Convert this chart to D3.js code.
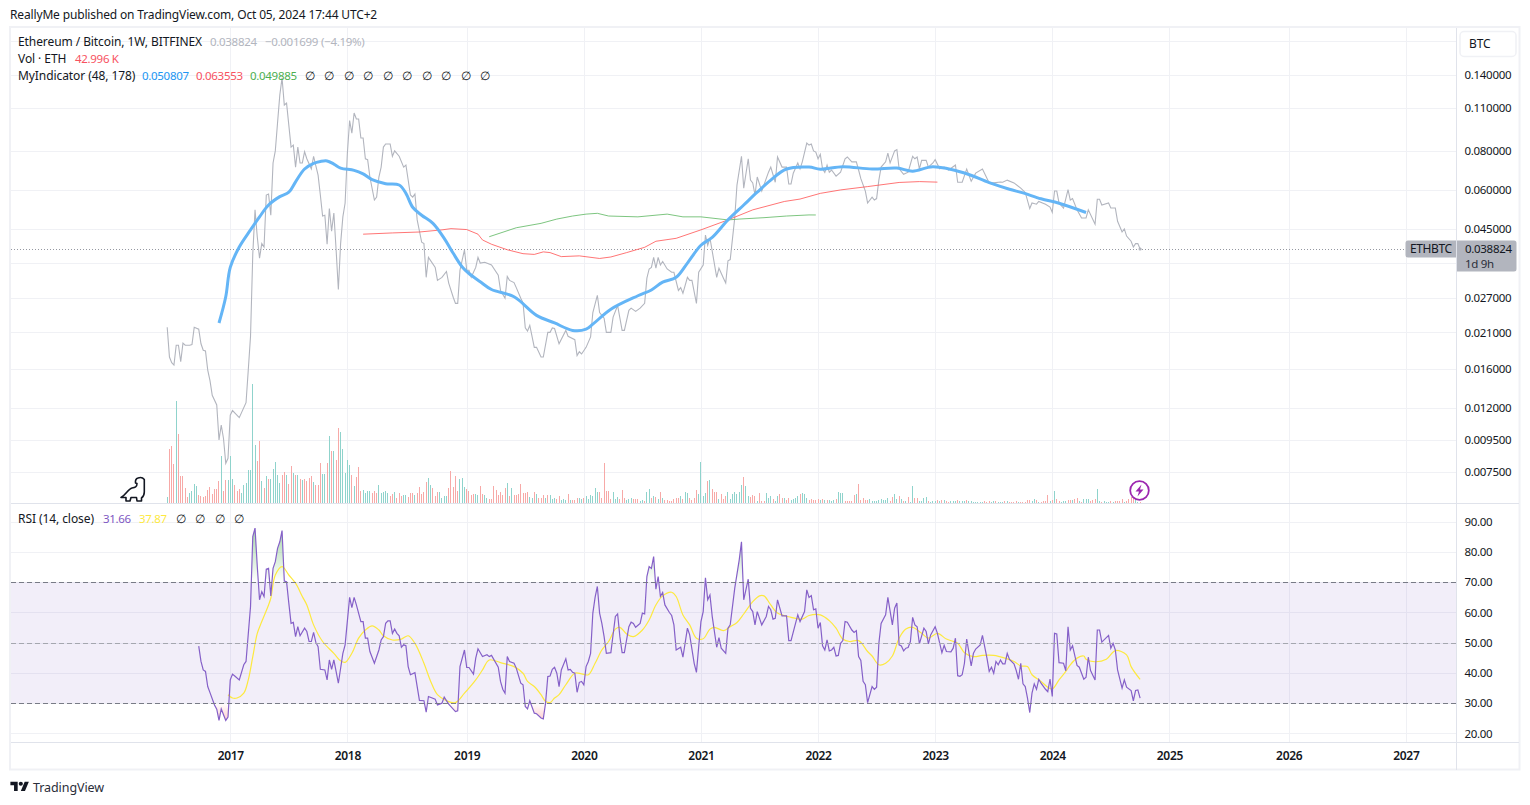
<!DOCTYPE html>
<html><head><meta charset="utf-8"><title>ETHBTC</title>
<script src="https://cdn.jsdelivr.net/npm/d3@7"></script>
<style>html,body{margin:0;padding:0;background:#fff}svg{display:block}text{font-family:"Noto Sans",sans-serif;font-size:12px;letter-spacing:-.08px}</style>
</head><body><svg id="c" width="1530" height="805"></svg>
<script>
// ---------- data: [week index since first bar, value] ----------
const yearLabels = ["2017","2018","2019","2020","2021","2022","2023","2024","2025","2026","2027"];
const yearTickWeeks = [28,80,133,185,237,289,341,393,445,498,550];
const priceAxisLabels = [0.14,0.11,0.08,0.06,0.045,0.027,0.021,0.016,0.012,0.0095,0.0075];
const priceGridLevels = [0.18,0.14,0.11,0.08,0.06,0.045,0.035,0.027,0.021,0.016,0.012,0.0095,0.0075];
const rsiAxisLabels = [20,30,40,50,60,70,80,90];

const priceCloses = [[0,.0218],[1,.0175],[2,.0168],[3,.0165],[4,.0191],[5,.0191],[6,.0169],[7,.0194],[8,.0191],[10,.0191],[11,.0192],[12,.0218],[14,.0215],[15,.0193],[16,.0184],[17,.0183],[18,.0159],[19,.0147],[20,.0132],[22,.0123],[23,.0095],[24,.0106],[25,.0096],[26,.0080],[27,.0083],[28,.0114],[29,.0118],[32,.0112],[35,.0125],[36,.0159],[37,.0204],[38,.0374],[39,.0518],[40,.0424],[41,.0363],[42,.0404],[43,.0394],[44,.0578],[45,.0582],[46,.0498],[47,.0732],[48,.0800],[49,.0985],[50,.1208],[51,.1370],[52,.1122],[53,.1138],[55,.0823],[56,.0835],[57,.0710],[58,.0823],[59,.0732],[60,.0732],[61,.0795],[62,.0755],[64,.0701],[65,.0769],[67,.0669],[68,.0578],[69,.0495],[70,.0498],[71,.0402],[72,.0523],[73,.0443],[74,.0506],[75,.0386],[76,.0288],[77,.0404],[78,.0492],[79,.0545],[80,.0787],[81,.1000],[82,.0912],[83,.1058],[84,.1012],[85,.1012],[86,.0880],[87,.0880],[88,.0755],[89,.0750],[90,.0660],[92,.0557],[93,.0569],[94,.0660],[95,.0710],[96,.0823],[97,.0842],[99,.0842],[100,.0769],[101,.0800],[103,.0769],[105,.0710],[106,.0721],[108,.0578],[109,.0569],[110,.0582],[111,.0481],[113,.0408],[114,.0404],[115,.0315],[116,.0365],[119,.0339],[120,.0308],[122,.0315],[124,.0329],[125,.0302],[127,.0272],[128,.0260],[129,.0260],[130,.0332],[132,.0386],[133,.0332],[134,.0332],[135,.0315],[137,.0339],[138,.0365],[139,.0350],[141,.0352],[144,.0345],[147,.0320],[148,.0286],[150,.0270],[151,.0317],[152,.0308],[154,.0303],[155,.0292],[157,.0270],[158,.0261],[159,.0217],[160,.0212],[161,.0221],[163,.0188],[164,.0188],[166,.0175],[167,.0175],[169,.0210],[170,.0210],[171,.0217],[172,.0216],[174,.0193],[177,.0213],[178,.0204],[181,.0199],[182,.0177],[183,.0182],[184,.0179],[186,.0188],[188,.0203],[189,.0243],[191,.0276],[192,.0243],[194,.0233],[195,.0210],[197,.0210],[198,.0235],[200,.0256],[202,.0213],[203,.0213],[205,.0247],[206,.0251],[208,.0245],[210,.0251],[212,.0260],[213,.0313],[214,.0335],[215,.0339],[216,.0365],[217,.0337],[218,.0365],[219,.0345],[220,.0354],[222,.0335],[224,.0327],[225,.0327],[227,.0286],[228,.0292],[229,.0280],[231,.0315],[232,.0308],[233,.0308],[235,.0260],[236,.0327],[238,.0345],[239,.0430],[240,.0399],[241,.0421],[244,.0315],[245,.0337],[247,.0313],[248,.0302],[249,.0356],[250,.0359],[252,.0488],[253,.0622],[255,.0769],[256,.0608],[258,.0755],[259,.0645],[260,.0632],[261,.0578],[262,.0660],[264,.0595],[267,.0684],[268,.0710],[270,.0635],[271,.0765],[273,.0710],[275,.0710],[276,.0627],[277,.0627],[278,.0679],[280,.0732],[281,.0701],[282,.0738],[284,.0848],[285,.0835],[286,.0842],[287,.0800],[288,.0793],[289,.0755],[290,.0780],[291,.0701],[292,.0683],[293,.0721],[294,.0684],[295,.0695],[297,.0664],[299,.0684],[301,.0755],[302,.0765],[304,.0738],[306,.0738],[307,.0695],[308,.0652],[310,.0595],[311,.0545],[313,.0569],[314,.0557],[315,.0563],[316,.0645],[317,.0710],[319,.0738],[320,.0787],[321,.0732],[323,.0800],[324,.0808],[325,.0701],[327,.0673],[329,.0684],[331,.0769],[332,.0755],[333,.0765],[334,.0701],[335,.0746],[337,.0746],[338,.0710],[340,.0732],[341,.0750],[343,.0701],[345,.0710],[347,.0695],[350,.0721],[351,.0635],[353,.0635],[355,.0700],[357,.0640],[359,.0679],[362,.0700],[365,.0632],[367,.0632],[370,.0636],[371,.0635],[373,.0645],[376,.0632],[379,.0608],[381,.0589],[383,.0523],[384,.0545],[386,.0540],[387,.0551],[390,.0540],[392,.0529],[393,.0509],[394,.0595],[395,.0595],[396,.0545],[398,.0525],[400,.0601],[401,.0557],[402,.0563],[404,.0518],[406,.0488],[408,.0488],[409,.0518],[412,.0466],[413,.0560],[414,.0560],[415,.0537],[418,.0545],[419,.0525],[421,.0525],[422,.0476],[424,.0440],[425,.0450],[426,.0427],[428,.0411],[429,.0394],[430,.0404],[431,.0404],[432,.038824]];

const maShort = [[23,.0225],[26,.0273],[28,.0339],[32,.0394],[37,.0447],[41,.0492],[45,.0537],[50,.0571],[54,.0590],[57,.0637],[61,.0700],[65,.0730],[68,.0740],[71,.0743],[74,.0726],[77,.0705],[83,.0693],[87,.0675],[91,.0647],[97,.0628],[103,.0622],[106,.0585],[109,.0528],[113,.0498],[118,.0469],[123,.0420],[127,.0376],[131,.0340],[134,.0324],[139,.0305],[144,.0288],[154,.0273],[164,.0238],[172,.0225],[180,.0213],[186,.0215],[189,.0223],[197,.0249],[209,.0275],[215,.0287],[220,.0304],[226,.0315],[231,.0350],[237,.0399],[242,.0423],[249,.0481],[256,.0537],[262,.0590],[268,.0645],[275,.0700],[285,.0710],[290,.0699],[300,.0712],[313,.0700],[324,.0705],[331,.0689],[340,.0712],[354,.0680],[365,.0633],[374,.0603],[380,.0587],[388,.0562],[396,.0544],[408,.050807]];

const maLong = [[87,.0433],[100,.0437],[112,.0440],[122,.0447],[126,.0451],[133,.0448],[138,.0433],[140,.0415],[144,.0402],[151,.0386],[158,.0375],[163,.0373],[167,.0380],[170,.0378],[175,.0367],[183,.0369],[192,.0362],[197,.0366],[204,.0378],[212,.0393],[217,.0411],[226,.0420],[237,.0447],[249,.0481],[260,.0518],[274,.0551],[281,.0561],[290,.0585],[299,.0600],[311,.0615],[325,.0634],[334,.0638],[342,.063553]];

const maThird = [[143,.0425],[155,.0454],[166,.0469],[173,.0484],[180,.0495],[186,.0502],[191,.0505],[196,.0495],[209,.0492],[222,.0502],[229,.0492],[237,.0492],[249,.0481],[254,.0484],[265,.0489],[275,.0495],[285,.0499],[288,.049885]];

// weekly volume in thousands of ETH; negative = down week
const weeklyVolumeK = [
180,-1620,-1710,-1170,3060,-2070,-810,-810,-450,-180,
300,360,570,510,-240,-210,-180,-210,-390,-480,
-270,-420,-420,-660,1410,-360,-690,690,1410,720,
-540,-360,-420,300,540,600,990,990,3570,1740,
-1260,-1860,660,-450,810,-720,720,1020,1230,840,
600,-840,-930,840,-570,-1110,900,-840,840,-720,
690,-720,-660,-750,-810,630,-540,-540,-1200,870,
870,-1200,2010,-1560,1560,-1290,-2250,2130,1620,900,
1290,1140,-840,510,-780,-1080,-360,390,300,360,
360,-300,-360,-300,540,300,330,360,300,-210,
-270,330,-150,-300,
-210,240,240,-180,-300,-300,240,-300,-480,-270,
-330,-630,750,540,-450,-210,-330,330,150,210,
210,-450,-960,-480,-810,-360,720,750,480,-420,
-360,-240,-270,270,240,-510,-270,240,150,-120,
-120,-510,-390,-240,-330,-240,-450,600,-210,450,
-240,-240,-270,-570,-300,-300,-330,180,150,-330,
270,-150,-150,-240,150,-240,240,120,150,-120,
-210,90,120,90,-270,90,-90,-90,-150,150,
120,-150,210,120,240,210,450,330,-330,-150,
-1200,-360,-360,-120,330,120,180,-120,-390,-150,
90,120,150,-120,-120,-120,60,90,-60,330,
420,-150,210,-180,120,-330,150,-90,-90,-60,
-60,-120,-150,-150,210,-120,330,300,-150,
-90,-150,-390,270,1230,210,300,-660,690,-420,
-330,-330,120,-270,-120,-210,330,120,270,330,
270,330,540,-780,510,210,-180,-240,-210,60,
-300,-60,-60,300,150,210,-120,60,210,-270,
-150,150,-90,-150,90,120,150,210,-270,300,
270,150,-90,-120,-90,-90,-120,90,-120,90,
-90,90,60,90,-120,330,300,300,-60,-60,
-60,-60,-240,270,-570,-90,-150,-90,-90,120,
60,60,60,90,120,90,90,150,-60,-180,
270,120,-210,120,-60,60,-180,30,510,-150,
-150,60,60,150,180,-60,30,60,60,-90,
60,-90,90,-60,-30,60,60,60,-90,60,
60,60,-90,60,60,30,30,30,30,30,
-60,-30,-60,30,60,-60,30,30,30,-60,
60,-30,-30,-30,-60,30,-30,-30,-30,-90,
-90,60,120,-90,30,-30,-60,-60,-240,60,
-90,360,-120,-60,30,60,60,-90,-90,90,
-120,-150,60,-30,120,120,120,-60,-90,-120,
420,60,-30,60,30,30,-60,30,-60,-60,
-60,-120,30,-60,-120,-180,-150,90,30,-43];

const rsi = [[14,48.9],[15,43.8],[16,41.0],[17,40.5],[18,35.5],[19,33.5],[21,29.4],[22,28.0],[23,24.3],[24,28.1],[26,24.3],[27,25.4],[28,37.7],[29,39.6],[30,39.0],[32,37.7],[34,42.7],[35,43.8],[37,62.0],[38,85.1],[39,87.9],[40,75.2],[41,64.2],[42,66.9],[43,65.3],[44,74.3],[45,74.6],[46,65.5],[47,74.6],[48,76.8],[49,81.2],[50,83.4],[51,87.1],[52,70.4],[53,70.2],[54,63.1],[55,56.4],[56,56.7],[57,52.0],[58,55.3],[59,52.3],[61,54.8],[62,53.7],[63,50.4],[64,50.4],[65,53.4],[66,50.1],[67,48.7],[68,41.2],[70,41.0],[71,37.7],[72,44.3],[73,41.2],[74,44.3],[76,36.6],[78,46.5],[79,49.3],[81,65.0],[82,61.6],[83,65.0],[84,62.5],[86,57.0],[87,57.0],[88,51.5],[89,51.5],[90,47.1],[92,43.2],[94,47.6],[95,50.9],[96,52.0],[97,56.4],[98,57.2],[99,57.2],[100,53.1],[101,54.5],[102,53.1],[103,52.3],[104,48.5],[105,49.3],[106,49.0],[107,42.1],[108,39.4],[110,40.1],[111,35.5],[112,30.9],[114,30.8],[115,27.0],[116,32.2],[119,31.3],[120,29.4],[122,30.0],[123,32.0],[125,29.7],[128,27.2],[129,27.5],[130,42.1],[132,47.6],[133,41.8],[134,41.8],[136,39.6],[137,44.9],[138,48.0],[140,45.4],[142,46.0],[143,45.4],[144,45.8],[147,41.9],[148,37.2],[149,34.6],[150,33.3],[151,45.4],[152,43.8],[154,43.2],[155,41.6],[157,36.6],[158,36.1],[159,28.9],[160,28.1],[161,30.8],[163,26.7],[164,26.5],[166,25.1],[167,24.8],[168,30.0],[169,38.8],[170,39.0],[171,41.2],[172,41.9],[173,39.9],[174,35.5],[175,41.0],[177,44.7],[178,41.0],[179,41.2],[180,40.2],[181,39.9],[182,33.6],[183,36.9],[184,37.2],[185,36.1],[186,42.1],[187,43.8],[188,46.5],[189,59.8],[190,65.0],[191,68.6],[192,59.8],[193,56.4],[194,52.0],[195,46.5],[197,46.7],[199,58.7],[200,59.5],[201,52.0],[202,46.7],[203,46.7],[205,55.3],[206,56.8],[207,56.4],[208,55.1],[210,56.4],[211,59.8],[212,59.5],[213,71.9],[214,75.2],[215,74.6],[216,78.5],[217,67.7],[218,71.9],[219,65.3],[220,66.6],[221,62.5],[223,60.0],[224,59.0],[225,55.9],[226,47.6],[228,48.5],[229,45.2],[231,54.8],[232,52.6],[234,43.2],[235,40.2],[237,57.0],[238,60.3],[239,71.5],[240,64.2],[241,65.8],[242,58.7],[244,48.5],[245,51.7],[246,48.2],[248,46.5],[249,54.8],[250,55.9],[252,68.0],[254,77.4],[255,83.4],[256,64.2],[258,71.0],[259,61.4],[260,60.3],[261,55.9],[262,60.3],[264,55.9],[266,58.7],[267,62.0],[268,60.9],[269,57.8],[270,58.1],[271,64.2],[273,58.9],[275,58.9],[276,50.7],[277,50.7],[279,56.4],[280,59.2],[281,57.0],[283,60.3],[284,67.5],[285,65.0],[286,65.6],[287,60.9],[288,61.2],[289,54.8],[290,56.7],[291,49.0],[292,47.6],[293,50.9],[294,47.3],[295,47.6],[296,48.5],[297,45.6],[298,45.8],[299,49.8],[300,50.7],[301,57.0],[302,56.8],[304,54.2],[305,53.4],[306,54.0],[307,45.4],[308,44.1],[309,37.2],[310,36.1],[311,30.2],[313,35.5],[314,34.6],[315,35.3],[316,49.8],[317,56.4],[319,59.2],[320,65.0],[322,55.9],[323,61.4],[324,63.1],[325,49.3],[326,48.9],[327,47.3],[328,48.2],[329,48.4],[330,50.4],[331,58.4],[332,55.9],[333,55.3],[334,49.6],[336,54.8],[337,53.7],[338,49.6],[339,52.6],[341,55.3],[342,53.1],[344,46.7],[345,49.1],[346,47.1],[348,47.0],[349,48.2],[350,51.5],[351,39.1],[352,38.9],[353,39.4],[354,43.2],[355,51.2],[357,42.3],[358,46.5],[359,47.9],[361,49.3],[362,52.4],[364,44.9],[365,40.5],[366,41.9],[367,39.9],[368,43.8],[369,42.7],[370,44.3],[371,43.0],[372,43.0],[373,46.5],[374,44.5],[376,43.0],[377,40.8],[378,37.9],[379,43.2],[380,36.4],[381,35.5],[382,31.7],[383,26.9],[384,33.3],[385,36.4],[386,34.6],[387,37.9],[388,36.6],[390,34.6],[391,33.8],[392,38.0],[393,32.2],[394,53.1],[395,52.9],[396,43.4],[398,43.2],[399,40.7],[400,55.3],[401,47.6],[402,49.0],[404,42.5],[405,41.9],[407,37.9],[408,38.6],[409,45.2],[410,40.8],[412,37.7],[413,54.2],[414,54.2],[415,50.2],[417,51.7],[418,52.4],[419,48.2],[420,49.8],[421,47.6],[422,41.0],[424,35.0],[425,37.7],[426,35.3],[428,34.2],[429,30.8],[430,34.2],[431,34.4],[432,31.66]];

const rsiMa = [[27,32.8],[29,31.7],[31,31.7],[34,33.3],[36,37.7],[38,45.4],[40,53.1],[42,57.0],[45,62.5],[46,64.7],[48,72.4],[51,75.2],[54,72.4],[57,69.7],[60,65.3],[62,62.5],[65,55.9],[69,50.4],[74,46.5],[77,44.0],[79,43.5],[82,46.5],[85,51.5],[88,54.2],[91,55.6],[94,54.2],[96,52.3],[100,50.9],[104,51.2],[107,52.3],[110,49.8],[114,43.2],[117,37.2],[120,32.8],[124,30.8],[128,30.2],[132,33.3],[137,37.7],[140,41.0],[143,44.3],[148,43.4],[154,42.1],[158,39.9],[160,37.2],[163,35.5],[166,32.8],[168,30.6],[170,30.2],[172,31.7],[174,32.8],[177,36.1],[181,39.9],[184,39.7],[187,39.4],[190,43.2],[193,47.6],[196,50.4],[199,54.5],[201,55.1],[204,52.9],[207,52.0],[211,54.2],[214,57.5],[217,62.5],[220,65.5],[224,66.7],[226,65.3],[229,59.2],[232,55.9],[235,51.5],[238,51.3],[241,54.5],[243,55.1],[247,54.0],[250,55.3],[253,56.7],[256,59.5],[260,63.6],[263,65.5],[265,65.5],[268,62.5],[271,59.8],[277,58.4],[282,57.8],[285,59.0],[290,59.2],[294,57.3],[297,54.8],[300,51.2],[303,50.4],[307,50.7],[311,47.1],[313,45.6],[316,42.7],[319,43.2],[322,45.6],[325,51.5],[328,54.5],[331,55.1],[335,53.1],[338,51.5],[342,53.1],[346,51.2],[351,49.8],[354,46.7],[358,45.4],[362,45.8],[367,45.8],[372,44.9],[376,43.8],[379,42.3],[382,42.1],[384,39.4],[388,37.2],[391,35.3],[393,34.7],[396,37.7],[399,40.5],[401,42.7],[404,44.9],[407,45.6],[408,44.5],[412,43.7],[417,44.5],[421,47.4],[426,46.0],[428,42.1],[432,37.87]];

// ---------- layout ----------
const L=11, R=1456.5, T=28, MB=503.5, RB=742.5, FB=769.5;
const INK="#131722", GRID="#f0f1f5", LINE="#e0e3eb";
const NUM={"font-size":"11.5px","letter-spacing":"-.3px"};
const svg=d3.select("#c");

const x=d3.scaleLinear().domain([0,432]).range([167.2,1140.1]);
const yP=d3.scaleLog().domain([0.0075,0.14]).range([472,75]);
const yV=d3.scaleLinear().domain([0,3000]).range([503,403]);
const yR=d3.scaleLinear().domain([20,90]).range([733.4,521.8]);

// defs
const defs=svg.append("defs");
defs.append("clipPath").attr("id","mainClip").append("rect").attr("x",L).attr("y",T).attr("width",R-L).attr("height",MB-T);
defs.append("clipPath").attr("id","rsiClip").append("rect").attr("x",L).attr("y",MB).attr("width",R-L).attr("height",RB-MB);
defs.append("clipPath").attr("id","obClip").append("rect").attr("x",L).attr("y",MB).attr("width",R-L).attr("height",yR(70)-MB);
defs.append("clipPath").attr("id","osClip").append("rect").attr("x",L).attr("y",yR(30)).attr("width",R-L).attr("height",RB-yR(30));
const gOb=defs.append("linearGradient").attr("id","gOb").attr("gradientUnits","userSpaceOnUse").attr("x1",0).attr("x2",0).attr("y1",yR(90)).attr("y2",yR(70));
gOb.append("stop").attr("offset",0).attr("stop-color","#4caf50").attr("stop-opacity",.55);
gOb.append("stop").attr("offset",1).attr("stop-color","#4caf50").attr("stop-opacity",0);
const gOs=defs.append("linearGradient").attr("id","gOs").attr("gradientUnits","userSpaceOnUse").attr("x1",0).attr("x2",0).attr("y1",yR(30)).attr("y2",yR(20));
gOs.append("stop").attr("offset",0).attr("stop-color","#ff5252").attr("stop-opacity",0);
gOs.append("stop").attr("offset",1).attr("stop-color","#ff5252").attr("stop-opacity",.5);

// grid via axes
function grid(g){g.selectAll(".domain").remove();g.selectAll("text").remove();g.selectAll("line").attr("stroke",GRID).attr("shape-rendering","crispEdges");}
svg.append("g").attr("transform",`translate(${R},0)`).call(d3.axisRight(yP).tickValues(priceGridLevels).tickSize(L-R).tickFormat("")).call(grid);
svg.append("g").attr("transform",`translate(${R},0)`).call(d3.axisRight(yR).tickValues(d3.range(20,91,10)).tickSize(L-R).tickFormat("")).call(grid);
svg.append("g").attr("transform",`translate(0,${T})`).call(d3.axisBottom(x).tickValues(yearTickWeeks).tickSize(MB-T).tickFormat("")).call(grid);
svg.append("g").attr("transform",`translate(0,${MB})`).call(d3.axisBottom(x).tickValues(yearTickWeeks).tickSize(RB-MB).tickFormat("")).call(grid);

// volume
svg.append("g").attr("clip-path","url(#mainClip)").selectAll("rect").data(weeklyVolumeK).join("rect")
 .attr("x",(d,i)=>Math.floor(x(i))).attr("width",1)
 .attr("y",d=>yV(Math.abs(d))).attr("height",d=>yV(0)-yV(Math.abs(d)))
 .attr("fill",d=>d<0?"#f7a9a7":"#8fd3cc").attr("shape-rendering","crispEdges");

// last price dotted line
svg.append("line").attr("x1",L).attr("x2",1405.5).attr("y1",Math.round(yP(0.038824))+.5).attr("y2",Math.round(yP(0.038824))+.5)
 .attr("stroke","#9598a1").attr("stroke-dasharray","1 2");

const lineP=d3.line().x(d=>x(d[0])).y(d=>yP(d[1]));
const main=svg.append("g").attr("clip-path","url(#mainClip)").attr("fill","none");
main.append("path").datum(priceCloses).attr("d",lineP).attr("stroke","#b2b5be").attr("stroke-width",1.1);
main.append("path").datum(maThird).attr("d",lineP).attr("stroke","#66bb6a").attr("stroke-opacity",.85).attr("stroke-width",1);
main.append("path").datum(maLong).attr("d",lineP).attr("stroke","#ff5252").attr("stroke-opacity",.8).attr("stroke-width",1);
main.append("path").datum(maShort).attr("d",d3.line().x(d=>x(d[0])).y(d=>yP(d[1])).curve(d3.curveCatmullRom)).attr("stroke","#64b5f6").attr("stroke-width",3);
main.append("circle").attr("cx",x(432)).attr("cy",yP(0.038824)).attr("r",1.6).attr("fill","#b2b5be");

// RSI pane
svg.append("rect").attr("x",L).attr("width",R-L).attr("y",yR(70)).attr("height",yR(30)-yR(70)).attr("fill","#7e57c2").attr("fill-opacity",.1);
const rG=svg.append("g").attr("clip-path","url(#rsiClip)").attr("fill","none");
rG.append("path").datum(rsi).attr("clip-path","url(#obClip)").attr("fill","url(#gOb)").attr("d",d3.area().x(d=>x(d[0])).y0(yR(70)).y1(d=>yR(d[1])));
rG.append("path").datum(rsi).attr("clip-path","url(#osClip)").attr("fill","url(#gOs)").attr("d",d3.area().x(d=>x(d[0])).y0(yR(30)).y1(d=>yR(d[1])));
[[70,"#787b86"],[50,"#a5a7af"],[30,"#787b86"]].forEach(([v,c])=>{
 svg.append("line").attr("x1",L).attr("x2",R).attr("y1",Math.round(yR(v))+.5).attr("y2",Math.round(yR(v))+.5).attr("stroke",c).attr("stroke-dasharray","5 3");
});
const lineR=d3.line().x(d=>x(d[0])).y(d=>yR(d[1]));
rG.append("path").datum(rsiMa).attr("d",lineR.curve(d3.curveCatmullRom)).attr("stroke","#fde93f").attr("stroke-width",1.2);
rG.append("path").datum(rsi).attr("d",lineR.curve(d3.curveLinear)).attr("stroke","#8560c8").attr("stroke-width",1.2);

// frame
svg.append("rect").attr("x",10).attr("y",27).attr("width",1509.5).attr("height",FB-27).attr("fill","none").attr("stroke",GRID).attr("stroke-width",2);
const sep=(x1,y1,x2,y2)=>svg.append("line").attr("x1",x1).attr("y1",y1).attr("x2",x2).attr("y2",y2).attr("stroke",LINE).attr("shape-rendering","crispEdges");
sep(L,MB,1519,MB);sep(L,RB,1519,RB);sep(R,T,R,FB);

// axes
function clean(g){g.selectAll(".domain").remove();g.selectAll("text").attr("fill",INK).style("font-size",NUM["font-size"]).style("letter-spacing",NUM["letter-spacing"]);}
svg.append("g").attr("transform",`translate(${R},0)`).call(d3.axisRight(yP).tickValues(priceAxisLabels).tickSize(0).tickPadding(8).tickFormat(d3.format(".6f"))).call(clean);
svg.append("g").attr("transform",`translate(${R},0)`).call(d3.axisRight(yR).tickValues(rsiAxisLabels).tickSize(0).tickPadding(8).tickFormat(d3.format(".2f"))).call(clean);
svg.append("g").attr("transform",`translate(0,${RB})`).call(d3.axisBottom(x).tickValues(yearTickWeeks).tickSize(0).tickPadding(9).tickFormat((d,i)=>yearLabels[i])).call(clean)
  .selectAll("text").attr("font-weight",600).style("font-size","12px");

// text helper
function txt(s,px,py,fill=INK,extra){const t=svg.append("text").attr("x",px).attr("y",py).attr("fill",fill).text(s);if(extra)Object.entries(extra).forEach(([k,v])=>t.style(k,v));return t;}

txt("ReallyMe published on TradingView.com, Oct 05, 2024 17:44 UTC+2",10,19,INK,{"letter-spacing":"-.15px"});

// legends
txt("Ethereum / Bitcoin, 1W, BITFINEX",18,46);
txt("0.038824",210,46,"#b2b5be",NUM);txt("−0.001699",265,46,"#b2b5be",NUM);txt("(−4.19%)",321,46,"#b2b5be",NUM);
txt("Vol · ETH",18,63);txt("42.996 K",75,63,"#f7525f",NUM);
txt("MyIndicator (48, 178)",18,80);
txt("0.050807",142,80,"#2196f3",NUM);txt("0.063553",196,80,"#f7525f",NUM);txt("0.049885",250,80,"#4caf50",NUM);
d3.range(10).forEach(i=>txt("∅",305+i*19.45,80));
txt("RSI (14, close)",18,523);txt("31.66",103,523,"#7e57c2",NUM);txt("37.87",139,523,"#fde93f",NUM);
d3.range(4).forEach(i=>txt("∅",176+i*19.45,523));

// price tags
const yTag=yP(0.038824);
svg.append("path").attr("d",`M1456,${yTag-8.5}H1408a2.5,2.5 0 0 0 -2.5,2.5V${yTag+6}a2.5,2.5 0 0 0 2.5,2.5H1456Z`).attr("fill","#b2b5be");
txt("ETHBTC",1410,yTag+4.5,INK,{"letter-spacing":"-.4px"});
svg.append("path").attr("d",`M1457,${yTag-8.5}H1514a2.5,2.5 0 0 1 2.5,2.5V${yTag+20}a2.5,2.5 0 0 1 -2.5,2.5H1457Z`).attr("fill","#b2b5be");
txt("0.038824",1465,yTag+4.5,INK,NUM);txt("1d 9h",1465,yTag+19,"#2a2e39",NUM);

// BTC button
svg.append("rect").attr("x",1460).attr("y",31.5).attr("width",56).attr("height",25).attr("rx",4).attr("fill","#fff").attr("stroke",GRID).attr("stroke-width",1.5);
txt("BTC",1469,48);

// dino
svg.append("path").attr("fill","none").attr("stroke",INK).attr("stroke-width",1.6).attr("stroke-linejoin","round")
 .attr("d","M121,497.5 C126,495 128,489 132,488 C135,487.5 137,487 137,483.5 L135.5,483 Q135,479 138,478 Q142,476.5 144.3,479.5 L144.3,492 Q144.3,496 141.5,498 L141.5,501 L137,501 L136.5,497.5 L131,497.5 L130,501 L126,501 L126,497.5 Z");

// bolt
svg.append("circle").attr("cx",1139.5).attr("cy",490.5).attr("r",9.3).attr("fill","#fff").attr("stroke","#9c27b0").attr("stroke-width",1.8);
svg.append("path").attr("d","M1141.5,484.5L1135.5,491.5H1139L1137.5,496.5L1143.5,489.5H1140Z").attr("fill","#9c27b0");

// TV logo
const tv=svg.append("g").attr("transform","translate(10.4,779.6) scale(.52)").attr("fill",INK);
tv.append("path").attr("d","M14 22H7V11H0V4h14v18zM28 22h-8l7.5-18h8L28 22z");
tv.append("circle").attr("cx",20).attr("cy",8).attr("r",4);
txt("TradingView",33,792,"#2a2e39").style("font-size","12.5px");
</script></body></html>
